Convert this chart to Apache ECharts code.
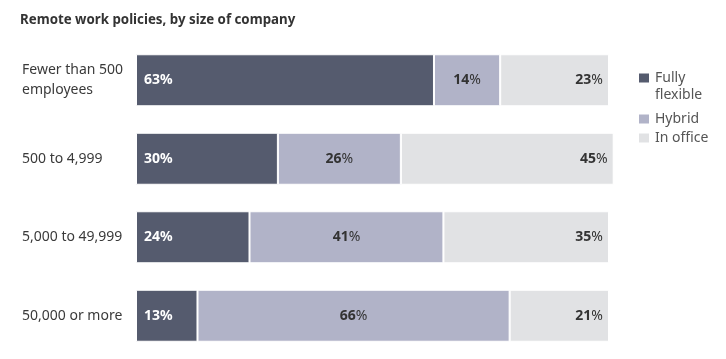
<!DOCTYPE html>
<html>
<head>
<meta charset="utf-8">
<script src="https://cdn.jsdelivr.net/npm/echarts@6/dist/echarts.min.js"></script>
<style>html,body{margin:0;padding:0;background:#fff}#c{width:726px;height:359px}</style>
</head>
<body>
<div id="c"></div>
<script>
var titleText = 'Remote work policies, by size of company';
var categories = ['Fewer than 500\nemployees', '500 to 4,999', '5,000 to 49,999', '50,000 or more'];
var seriesNames = ['Fully flexible', 'Hybrid', 'In office'];
var legendLabels = [' \nFully\nflexible', 'Hybrid', 'In office'];
var fullyFlexible = [63, 30, 24, 13];
var hybrid = [14, 26, 41, 66];
var inOffice = [23, 45, 35, 21];

var FONT = 'Noto Sans';
var colors = ['#555b6e', '#b1b3c8', '#e1e2e4'];

var chart = echarts.init(document.getElementById('c'), null, {renderer: 'canvas'});

function pctLabel(p) { return '{n|' + p.value + '}{p|%}'; }
var darkRich = {
  n: {fontFamily: FONT, fontSize: 14, fontWeight: 'bold', color: '#333'},
  p: {fontFamily: FONT, fontSize: 14, fontWeight: 'normal', color: '#333'}
};

function legendFor(i, top) {
  return {
    data: [{name: seriesNames[i], icon: 'rect'}],
    left: 637, top: top, padding: 0,
    itemWidth: 12, itemHeight: 11,
    selectedMode: false,
    formatter: function () { return legendLabels[i]; },
    textStyle: {fontFamily: FONT, fontSize: 14, color: '#555', lineHeight: 17}
  };
}

var option = {
  animation: false,
  title: {
    text: titleText, left: 20, top: 14, padding: 0,
    textStyle: {fontFamily: FONT, fontSize: 13.3, fontWeight: 'bold', color: '#333'}
  },
  legend: [legendFor(0, 52.5), legendFor(1, 110.5), legendFor(2, 129.5)],
  grid: {left: 136, right: 112.3, top: 41, bottom: 4, containLabel: false},
  xAxis: {type: 'value', min: 0, max: 101, show: false},
  yAxis: {
    type: 'category', data: categories, inverse: true,
    axisLine: {show: false}, axisTick: {show: false}, splitLine: {show: false},
    axisLabel: {align: 'left', margin: 114, fontFamily: FONT, fontSize: 14, color: '#3a3a3a', lineHeight: 20}
  },
  series: [
    {
      name: seriesNames[0], type: 'bar', stack: 'all', data: fullyFlexible, barWidth: 52,
      itemStyle: {color: colors[0], borderColor: '#fff', borderWidth: 1},
      label: {show: true, position: 'insideLeft', distance: 8, formatter: '{c}%',
        fontFamily: FONT, fontSize: 14, fontWeight: 'bold', color: '#fff'}
    },
    {
      name: seriesNames[1], type: 'bar', stack: 'all', data: hybrid, barWidth: 52,
      itemStyle: {color: colors[1], borderColor: '#fff', borderWidth: 1},
      label: {show: true, position: 'inside', formatter: pctLabel, rich: darkRich}
    },
    {
      name: seriesNames[2], type: 'bar', stack: 'all', data: inOffice, barWidth: 52,
      itemStyle: {color: colors[2], borderColor: '#fff', borderWidth: 1},
      label: {show: true, position: 'insideRight', distance: 6, formatter: pctLabel, rich: darkRich}
    }
  ]
};
chart.setOption(option);
</script>
</body>
</html>
